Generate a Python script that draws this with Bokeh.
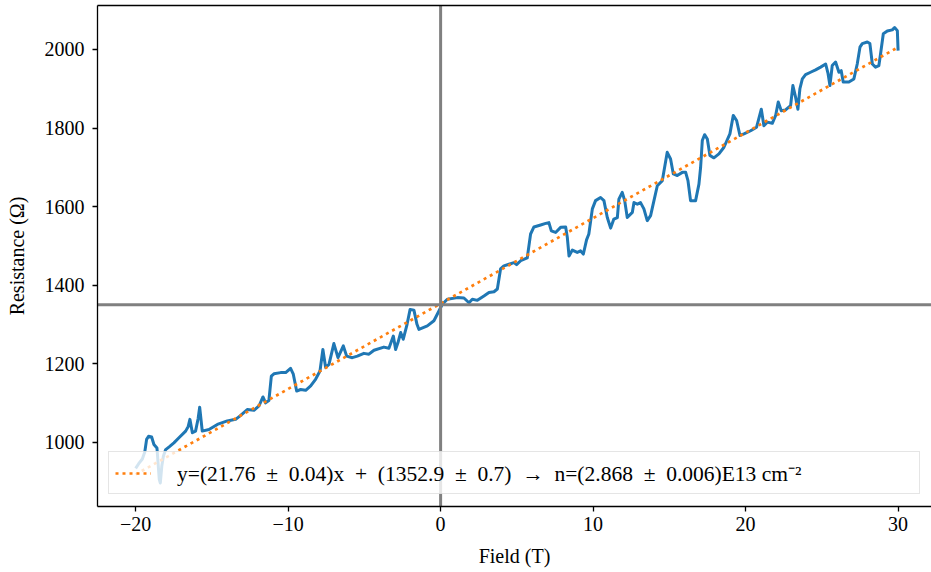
from bokeh.plotting import figure
from bokeh.models import Span, Range1d, LinearAxis, Legend, LegendItem, FixedTicker
from bokeh.embed import file_html
from bokeh.resources import INLINE

# measured curve
field = [-20.0, -19.8, -19.56, -19.4, -19.28, -19.15, -18.95, -18.8, -18.6, -18.45, -18.38, -18.28,
         -18.18, -18.03, -17.8, -17.49, -17.16, -16.72, -16.55, -16.44, -16.28, -16.07, -15.9, -15.8,
         -15.63, -15.19, -14.64, -13.99, -13.44, -13.11, -12.68, -12.24, -11.91, -11.65, -11.48, -11.26,
         -11.1, -10.93, -10.49, -10.16, -9.84, -9.66, -9.44, -9.18, -8.85, -8.52, -8.2, -7.91, -7.72,
         -7.54, -7.32, -7.0, -6.73, -6.38, -6.16, -5.79, -5.46, -5.03, -4.7, -4.37, -3.72, -3.39, -3.1,
         -2.95, -2.8, -2.62, -2.45, -2.2, -2.0, -1.75, -1.55, -1.42, -0.87, -0.44, -0.11, 0.11, 0.44,
         1.1, 1.53, 1.86, 2.08, 2.41, 2.84, 3.17, 3.5, 3.72, 3.93, 4.15, 4.48, 4.81, 4.98, 5.25, 5.68,
         5.9, 6.12, 6.56, 6.89, 7.1, 7.26, 7.54, 7.87, 8.2, 8.31, 8.42, 8.64, 8.96, 9.18, 9.36, 9.57,
         9.72, 9.95, 10.16, 10.49, 10.71, 10.93, 11.15, 11.36, 11.59, 11.69, 11.91, 12.07, 12.24, 12.57,
         12.68, 12.9, 13.11, 13.33, 13.55, 13.77, 13.99, 14.21, 14.54, 14.86, 15.08, 15.26, 15.52, 15.85,
         16.07, 16.22, 16.39, 16.72, 16.94, 17.05, 17.16, 17.31, 17.49, 17.66, 17.92, 18.25, 18.58,
         18.97, 19.19, 19.41, 19.63, 19.89, 20.33, 20.72, 21.03, 21.2, 21.42, 21.75, 21.97, 22.14,
         22.34, 22.62, 22.95, 23.1, 23.28, 23.43, 23.56, 23.72, 23.93, 24.26, 24.59, 24.92, 25.25, 25.4,
         25.53, 25.68, 25.9, 26.12, 26.27, 26.4, 26.77, 27.1, 27.32, 27.5, 27.65, 27.98, 28.15, 28.31,
         28.52, 28.74, 28.85, 29.03, 29.29, 29.62, 29.77, 29.95, 30.0]
resistance = [933, 945, 957, 975, 1007, 1015, 1013, 994, 985, 905, 896, 940,
              964, 981, 988, 998, 1011, 1028, 1040, 1058, 1024, 1028, 1060, 1089,
              1028, 1032, 1045, 1054, 1058, 1068, 1083, 1081, 1092, 1115, 1100, 1106,
              1168, 1174, 1177, 1177, 1188, 1173, 1130, 1134, 1132, 1143, 1160, 1181, 1236,
              1190, 1198, 1251, 1215, 1245, 1219, 1215, 1219, 1226, 1224, 1234, 1242, 1239, 1270,
              1236, 1253, 1279, 1262, 1300, 1338, 1336, 1300, 1287, 1296, 1309, 1334, 1351, 1364,
              1368, 1367, 1355, 1364, 1361, 1372, 1381, 1383, 1390, 1441, 1449, 1453, 1457, 1452, 1462, 1469,
              1530, 1548, 1553, 1557, 1559, 1538, 1534, 1547, 1548, 1521, 1474, 1489, 1483, 1487, 1479, 1515,
              1530, 1594, 1615, 1623, 1615, 1572, 1545, 1568, 1572, 1619, 1636, 1615, 1572, 1585,
              1610, 1606, 1610, 1594, 1564, 1577, 1615, 1653, 1666, 1738, 1721, 1683, 1679, 1687,
              1687, 1666, 1615, 1615, 1657, 1700, 1768, 1783, 1772, 1730, 1724, 1734, 1751,
              1785, 1832, 1819, 1781, 1785, 1793, 1802, 1848, 1806, 1815, 1812, 1832, 1866,
              1844, 1846, 1857, 1908, 1878, 1848, 1900, 1925, 1936, 1942, 1948, 1955, 1963, 1940,
              1908, 1959, 1968, 1942, 1946, 1917, 1917, 1925, 1963, 2006, 2015, 2019, 2015, 1963,
              1955, 1959, 1989, 2040, 2047, 2050, 2056, 2048, 1997]

# linear fit end points
fit_x = [-20.0, 30.0]
fit_y = [917.7, 2005.7]
SP = "\u2002"
fit_label = ("y=(21.76" + SP + "\u00b1" + SP + "0.04)x" + SP + "+" + SP + "(1352.9" + SP + "\u00b1" + SP
             + "0.7)" + SP + "\u2192" + SP + "n=(2.868" + SP + "\u00b1" + SP + "0.006)E13 cm\u207b\u00b2")

x_ticks = [-20, -10, 0, 10, 20, 30]
x_tick_labels = ["\u221220", "\u221210", "0", "10", "20", "30"]
y_ticks = [1000, 1200, 1400, 1600, 1800, 2000]
x0_line = 0
y0_line = 1350

FONT = "Liberation Serif"
FS = "20px"

p = figure(width=931, height=572, output_backend="svg", toolbar_location=None,
           x_range=Range1d(-22.5, 32.19), y_range=Range1d(836, 2112),
           min_border_left=97, min_border_right=0, min_border_top=5, min_border_bottom=66)
p.outline_line_color = None
p.xgrid.visible = False
p.ygrid.visible = False
p.background_fill_color = "white"

for ax in (p.xaxis[0], p.yaxis[0]):
    ax.axis_line_color = "black"
    ax.axis_line_width = 1.3
    ax.major_tick_line_width = 1.3
    ax.major_tick_in = 0
    ax.major_tick_out = 5
    ax.minor_tick_out = 0
    ax.minor_tick_in = 0
    ax.major_label_text_font = FONT
    ax.major_label_text_font_size = FS
    ax.major_label_text_color = "black"
    ax.axis_label_text_font = FONT
    ax.axis_label_text_font_size = FS
    ax.axis_label_text_font_style = "normal"
    ax.axis_label_text_color = "black"

p.xaxis[0].ticker = FixedTicker(ticks=x_ticks)
p.xaxis[0].major_label_overrides = {t: l for t, l in zip(x_ticks, x_tick_labels)}
p.yaxis[0].ticker = FixedTicker(ticks=y_ticks)
p.xaxis[0].axis_label = "Field (T)"
p.yaxis[0].axis_label = "Resistance (\u03a9)"
p.xaxis[0].major_label_standoff = 5
p.yaxis[0].major_label_standoff = 8
p.xaxis[0].axis_label_standoff = 11
p.yaxis[0].axis_label_standoff = 14

top = LinearAxis(ticker=FixedTicker(ticks=[]), major_label_text_font_size="0px",
                 major_tick_out=0, minor_tick_out=0, axis_line_width=1.3)
p.add_layout(top, "above")

curve = p.line(field, resistance, line_color="#1f77b4", line_width=3, line_join="round")

vs = Span(location=x0_line, dimension="height", line_color="#808080", line_width=3, level="glyph")
hs = Span(location=y0_line, dimension="width", line_color="#808080", line_width=3, level="glyph")
p.add_layout(vs)
p.add_layout(hs)

fit = p.line(fit_x, fit_y, line_color="#ff7f0e", line_width=2.7, line_dash="3 4", line_cap="butt")

legend = Legend(items=[LegendItem(label=fit_label, renderers=[fit])],
                location=(11, 12), orientation="vertical",
                label_text_font=FONT, label_text_font_size="21.5px", label_text_color="black",
                glyph_width=36, glyph_height=18, label_standoff=26, label_width=736,
                padding=6, margin=0,
                border_line_color="#cccccc", border_line_width=1.3,
                background_fill_color="white", background_fill_alpha=0.8)
p.add_layout(legend, "center")

open("out.html", "w").write(file_html(p, INLINE))
